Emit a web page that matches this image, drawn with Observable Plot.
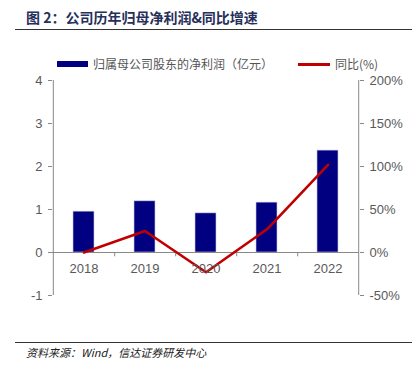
<!DOCTYPE html>
<html><head><meta charset="utf-8">
<script src="https://cdn.jsdelivr.net/npm/d3@7"></script>
<script src="https://cdn.jsdelivr.net/npm/@observablehq/plot@0.6"></script>
<style>
body{margin:0;background:#fff;font-family:"Liberation Sans",Arial,sans-serif;}
#wrap{position:relative;width:416px;height:369px;overflow:hidden;}
#wrap svg{position:absolute;left:0;top:0;}
.t{position:absolute;white-space:nowrap;}
</style></head><body>
<div id="wrap">
<div class="t" style="left:26px;top:8px;font-size:14px;font-weight:bold;color:#26305a;font-family:'Noto Sans CJK SC',sans-serif;line-height:18px;">图 2：公司历年归母净利润&amp;同比增速</div>
<div style="position:absolute;left:15px;top:29px;width:397px;height:1px;background:#333;"></div>
<div style="position:absolute;left:57px;top:61px;width:31px;height:6px;background:#000080;"></div>
<div class="t" style="left:93px;top:56px;font-size:12px;color:#555;font-family:'Noto Sans CJK SC',sans-serif;line-height:16px;">归属母公司股东的净利润（亿元）</div>
<div style="position:absolute;left:298px;top:63px;width:32px;height:3px;background:#c00000;"></div>
<div class="t" style="left:335px;top:56px;font-size:12px;color:#555;font-family:'Noto Sans CJK SC',sans-serif;line-height:16px;">同比(%)</div>
<div style="position:absolute;left:15px;top:342px;width:397px;height:1px;background:#333;"></div>
<div class="t" style="left:26px;top:345px;font-size:11px;font-style:italic;color:#222;font-family:'Noto Sans CJK SC',sans-serif;line-height:15px;">资料来源：Wind，信达证券研发中心</div>
</div>
<script>
const years = ["2018","2019","2020","2021","2022"];
const profit = [0.95, 1.19, 0.91, 1.16, 2.37];
const growth = [0, 25, -23, 27, 102];
const leftTicks = [-1, 0, 1, 2, 3, 4];
const rightTicks = ["-50%","0%","50%","100%","150%","200%"];

const data = years.map((y, i) => ({year: y, profit: profit[i], growth: growth[i]}));
const gray = "#888";
const step = (416 - 52 - 57) / years.length;

const chart = Plot.plot({
  width: 416, height: 369,
  marginLeft: 52, marginRight: 57, marginTop: 80, marginBottom: 74,
  style: {fontFamily: "'Liberation Sans', Arial, sans-serif", fontSize: "13px", color: "#595959", background: "transparent"},
  x: {domain: years, padding: 0, axis: null},
  y: {domain: [-1, 4], axis: null},
  marks: [
    Plot.barY(data, {x: "year", y: "profit", fill: "#000080", stroke: "#c8c8e8", strokeWidth: 0.6, insetLeft: 20, insetRight: 20}),
    Plot.ruleY([0], {stroke: gray, strokeWidth: 1}),
    Plot.ruleX([years[0]], {y1: -1, y2: 4, stroke: gray, dx: -step/2}),
    Plot.ruleX([years[years.length-1]], {y1: -1, y2: 4, stroke: gray, dx: step/2}),
    Plot.ruleX(years.slice(0, -1), {y1: 0, y2: -0.1, stroke: gray, dx: step/2}),
    Plot.axisY(leftTicks, {anchor: "left", label: null, tickSize: 4, tickPadding: 6, stroke: gray, fill: "#595959", fontSize: 13, tickFormat: d => String(d)}),
    Plot.axisY(leftTicks, {anchor: "right", label: null, tickSize: 4, tickPadding: 6, stroke: gray, fill: "#595959", fontSize: 13, tickFormat: d => rightTicks[leftTicks.indexOf(d)]}),
    Plot.line(data, {x: "year", y: d => d.growth / 50, stroke: "#c00000", strokeWidth: 2.6}),
    Plot.text(data, {x: "year", y: 0, text: "year", dy: 16, fill: "#595959", fontSize: 13})
  ]
});
document.getElementById("wrap").prepend(chart);
</script>
</body></html>
